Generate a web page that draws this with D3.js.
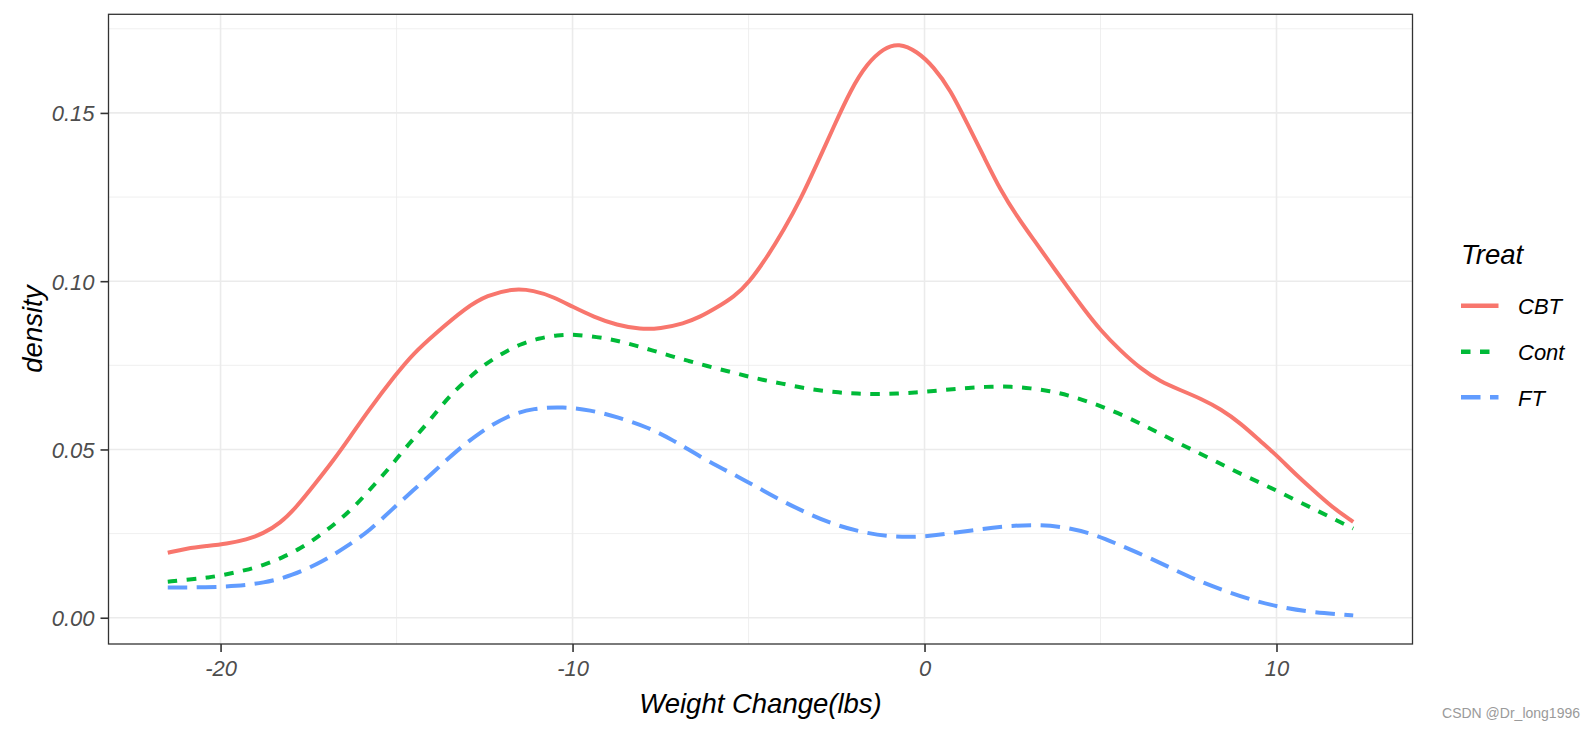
<!DOCTYPE html>
<html>
<head>
<meta charset="utf-8">
<script src="https://cdn.jsdelivr.net/npm/d3@7"></script>
<style>
  html, body { margin: 0; padding: 0; background: #fff; }
  svg { display: block; font-family: "Liberation Sans", Arial, sans-serif; }
</style>
</head>
<body>
<svg id="chart" width="1596" height="732"></svg>
<script>
// ---------------- data ----------------
const groups = ["CBT", "Cont", "FT"];
const xTicks = [-20, -10, 0, 10];
const yTicks = [0, 0.05, 0.10, 0.15];

const cbtX = [-21.5,-20.96,-20.4,-19.83,-19.26,-18.79,-18.31,-17.84,-17.3,-16.79,-16.3,-15.84,-15.0,-14.52,-13.95,-13.0,-12.43,-11.72,-11.1,-10.54,-10.0,-9.4,-8.74,-8.07,-7.51,-6.84,-6.37,-5.9,-5.42,-4.985,-4.47,-4.0,-3.53,-3.05,-2.58,-2.1,-1.63,-1.16,-0.73,-0.21,0.26,0.74,1.21,1.69,2.16,2.64,3.11,3.58,4.06,4.53,5.0,5.57,6.14,6.71,7.28,7.85,8.42,8.99,9.55,10.0,10.6,11.26,11.64,12.18];
const cbtY = [0.0193,0.0206,0.0213,0.022,0.0232,0.025,0.028,0.0329,0.040,0.0468,0.054,0.061,0.0726,0.0785,0.084,0.0924,0.0958,0.0978,0.0973,0.0953,0.0924,0.0894,0.0869,0.0857,0.0859,0.0874,0.0894,0.0922,0.0953,0.0996,0.1072,0.1152,0.1241,0.135,0.1459,0.1568,0.1647,0.1692,0.1708,0.1683,0.1637,0.1568,0.1469,0.1369,0.127,0.1191,0.1122,0.1053,0.0983,0.0917,0.0854,0.0793,0.0740,0.0701,0.0676,0.0651,0.0620,0.0577,0.0524,0.0483,0.0420,0.0359,0.0324,0.0285];

const contX = [-21.5,-20.87,-20.35,-19.83,-19.3,-18.78,-18.26,-17.74,-17.24,-16.77,-16.31,-15.94,-15.56,-15.18,-14.8,-14.43,-14.09,-13.71,-13.33,-12.91,-12.53,-12.01,-11.49,-10.97,-10.44,-9.92,-9.3,-8.78,-8.26,-7.74,-7.22,-6.7,-6.18,-5.61,-5.09,-4.57,-4.05,-3.53,-3.0,-2.44,-1.91,-1.35,-0.78,-0.26,0.26,0.79,1.33,1.9,2.46,3.01,3.56,4.09,4.63,5.15,5.67,6.19,6.66,7.18,7.66,8.18,8.68,9.18,9.68,10.17,10.69,11.2,11.69,12.18];
const contY = [0.0107,0.0114,0.0119,0.0129,0.0141,0.0156,0.0178,0.0205,0.024,0.0277,0.0319,0.0359,0.0404,0.0448,0.0498,0.0542,0.0582,0.0632,0.0676,0.0716,0.075,0.0785,0.0813,0.083,0.084,0.0842,0.0834,0.0825,0.081,0.0795,0.0778,0.0763,0.0748,0.0733,0.0719,0.0706,0.0696,0.0684,0.0676,0.0669,0.0666,0.0664,0.0666,0.0669,0.0674,0.0679,0.0684,0.0687,0.0687,0.0682,0.0674,0.0661,0.0643,0.0623,0.060,0.0574,0.0549,0.0521,0.0496,0.047,0.0443,0.0418,0.0394,0.0369,0.0342,0.0316,0.029,0.0265];

const ftX = [-21.5,-20.4,-19.54,-18.79,-17.98,-17.08,-16.41,-15.75,-15.13,-14.52,-13.95,-13.33,-12.62,-11.86,-11.1,-10.26,-9.5,-8.74,-7.88,-7.13,-6.37,-5.56,-4.85,-4.09,-3.33,-2.53,-1.73,-0.92,-0.07,0.69,1.5,2.3,3.16,3.96,4.77,5.48,6.33,7.09,7.85,8.61,9.41,10.17,10.97,11.83,12.18];
const ftY = [0.009,0.009,0.0094,0.0103,0.0124,0.0168,0.0212,0.026,0.0322,0.0379,0.0433,0.0493,0.0552,0.0600,0.0623,0.0627,0.0617,0.0597,0.0567,0.0527,0.0478,0.0433,0.0394,0.0349,0.031,0.0275,0.0253,0.024,0.024,0.025,0.0262,0.0272,0.0277,0.027,0.025,0.0219,0.0181,0.0143,0.0106,0.0077,0.0049,0.003,0.0017,0.001,0.0007];

const colors = ["#F8766D", "#00BA38", "#619CFF"];
const dashes = [null, "9.5,9.5", "19.5,9.5"];

// ---------------- layout ----------------
const svg = d3.select("#chart");
const P = { left: 108.5, right: 1412.5, top: 14.3, bottom: 644 };

const seriesX = [cbtX, contX, ftX];
const seriesY = [cbtY, contY, ftY];
const series = groups.map((g, i) => ({
  name: g, color: colors[i], dash: dashes[i],
  pts: seriesX[i].map((x, j) => [x, seriesY[i][j]])
}));

const allX = seriesX.flat(), allY = seriesY.flat();
const [x0, x1] = d3.extent(allX), [y0, y1] = d3.extent(allY);
const ex = (x1 - x0) * 0.05, ey = (y1 - y0) * 0.05;
const x = d3.scaleLinear().domain([x0 - ex, x1 + ex]).range([P.left, P.right]);
const y = d3.scaleLinear().domain([y0 - ey, y1 + ey]).range([P.bottom, P.top]);

// grid
const g = svg.append("g");
const xMinor = [-25, -15, -5, 5, 15].filter(v => v > x.domain()[0] && v < x.domain()[1]);
const yMinor = [0.025, 0.075, 0.125, 0.175].filter(v => v > y.domain()[0] && v < y.domain()[1]);
g.selectAll(".gyMin").data(yMinor).join("line")
  .attr("x1", P.left).attr("x2", P.right).attr("y1", d => y(d)).attr("y2", d => y(d))
  .attr("stroke", "#EBEBEB").attr("stroke-width", 0.8);
g.selectAll(".gxMin").data(xMinor).join("line")
  .attr("y1", P.top).attr("y2", P.bottom).attr("x1", d => x(d)).attr("x2", d => x(d))
  .attr("stroke", "#EBEBEB").attr("stroke-width", 0.8);
g.selectAll(".gy").data(yTicks).join("line")
  .attr("x1", P.left).attr("x2", P.right).attr("y1", d => y(d)).attr("y2", d => y(d))
  .attr("stroke", "#EBEBEB").attr("stroke-width", 1.6);
g.selectAll(".gx").data(xTicks).join("line")
  .attr("y1", P.top).attr("y2", P.bottom).attr("x1", d => x(d)).attr("x2", d => x(d))
  .attr("stroke", "#EBEBEB").attr("stroke-width", 1.6);

// lines
const line = d3.line().x(d => x(d[0])).y(d => y(d[1])).curve(d3.curveBasis);
svg.append("g").selectAll("path").data(series).join("path")
  .attr("d", d => line(d.pts))
  .attr("fill", "none")
  .attr("stroke", d => d.color)
  .attr("stroke-width", 4)
  .attr("stroke-dasharray", d => d.dash)
  .attr("stroke-linecap", "butt");

// panel border
svg.append("rect")
  .attr("x", P.left).attr("y", P.top)
  .attr("width", P.right - P.left).attr("height", P.bottom - P.top)
  .attr("fill", "none").attr("stroke", "#333333").attr("stroke-width", 1.3);

// axes
const xAxis = d3.axisBottom(x).tickValues(xTicks).tickSize(8).tickPadding(8).tickFormat(d => String(d));
const yAxis = d3.axisLeft(y).tickValues(yTicks).tickSize(8).tickPadding(6).tickFormat(d => d.toFixed(2));
const gx = svg.append("g").attr("transform", `translate(0,${P.bottom})`).call(xAxis);
const gy = svg.append("g").attr("transform", `translate(${P.left},0)`).call(yAxis);
[gx, gy].forEach(a => {
  a.select(".domain").remove();
  a.selectAll(".tick line").attr("stroke", "#333333").attr("stroke-width", 1.6);
  a.selectAll(".tick text").attr("fill", "#4D4D4D").attr("font-size", 22)
    .attr("font-style", "italic").attr("font-family", "Liberation Sans, Arial, sans-serif");
});
gx.selectAll(".tick text").attr("dy", "0.71em");
gy.selectAll(".tick text").attr("dy", "0.36em");

// axis titles
svg.append("text")
  .attr("x", (P.left + P.right) / 2).attr("y", 713)
  .attr("text-anchor", "middle").attr("font-size", 27.5).attr("font-style", "italic")
  .attr("fill", "#000").text("Weight Change(lbs)");
svg.append("text")
  .attr("transform", `translate(42,${(P.top + P.bottom) / 2}) rotate(-90)`)
  .attr("text-anchor", "middle").attr("font-size", 27.5).attr("font-style", "italic")
  .attr("fill", "#000").text("density");

// legend
const lg = svg.append("g");
lg.append("text").attr("x", 1461).attr("y", 264)
  .attr("font-size", 27.5).attr("font-style", "italic").attr("fill", "#000").text("Treat");
const keyY = [305.7, 351.7, 397.3];
series.forEach((s, i) => {
  lg.append("line").attr("x1", 1461).attr("x2", 1498.5)
    .attr("y1", keyY[i]).attr("y2", keyY[i])
    .attr("stroke", s.color).attr("stroke-width", 4.5)
    .attr("stroke-dasharray", s.dash);
  lg.append("text").attr("x", 1518).attr("y", keyY[i] + 8.5)
    .attr("font-size", 22).attr("font-style", "italic").attr("fill", "#000").text(s.name);
});

// watermark
svg.append("text").attr("x", 1580).attr("y", 718).attr("text-anchor", "end")
  .attr("font-size", 14).attr("fill", "#9a9a9a").text("CSDN @Dr_long1996");
</script>
</body>
</html>
